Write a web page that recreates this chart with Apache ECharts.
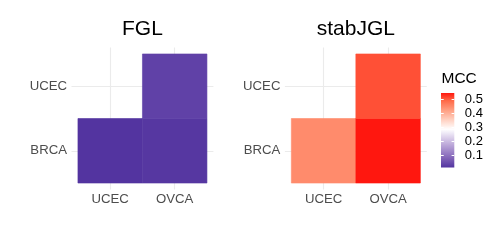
<!DOCTYPE html>
<html>
<head>
<meta charset="utf-8">
<script src="https://cdn.jsdelivr.net/npm/echarts@6/dist/echarts.min.js"></script>
<style>
html,body{margin:0;padding:0;background:#fff;}
#chart{width:498px;height:249px;}
</style>
</head>
<body>
<div id="chart"></div>
<script>
// ---- data ----
const xCategories = ['UCEC', 'OVCA'];
const yCategories = ['BRCA', 'UCEC'];
const panelTitles = ['FGL', 'stabJGL'];
const cellX = ['UCEC', 'OVCA', 'OVCA'];
const cellY = ['BRCA', 'BRCA', 'UCEC'];
const fglMCC = [0.016, 0.020, 0.0345];
const stabJGLMCC = [0.448, 0.545, 0.508];
const legendTitle = 'MCC';
const legendTicks = [0.1, 0.2, 0.3, 0.4, 0.5];
const mccMidpoint = 0.288;

// ---- styling ----
const FONT = 'Liberation Sans';
const ramp = ['#5334A0', '#8264B8', '#AC95D0', '#D6C9E8', '#FFFFFF',
              '#FFCFBF', '#FF9E81', '#FF6846', '#FF0000'];

const allVals = fglMCC.concat(stabJGLMCC);
const dataMin = Math.min.apply(null, allVals);
const dataMax = Math.max.apply(null, allVals);
const halfSpan = Math.max(mccMidpoint - dataMin, dataMax - mccMidpoint);
const visMin = mccMidpoint - halfSpan;
const visMax = mccMidpoint + halfSpan;

function cells(vals) {
  return vals.map((v, i) => [xCategories.indexOf(cellX[i]) + 1, yCategories.indexOf(cellY[i]) + 1, v]);
}

// colorbar gradient sampled from the same ramp the visualMap uses
const N = 40;
const barStops = [];
for (let i = 0; i < N; i++) {
  const v = dataMax - i / (N - 1) * (dataMax - dataMin);
  barStops.push({ offset: i / (N - 1), color: echarts.color.lerp((v - visMin) / (visMax - visMin), ramp) });
}

const panels = [
  { left: 71.5, top: 47.5, width: 141.9, height: 142 },
  { left: 284.9, top: 47.5, width: 141.9, height: 142 }
];

const grids = panels.map(p => ({ left: p.left, top: p.top, width: p.width, height: p.height }));
grids.push({ left: 441, top: 93, width: 13.3, height: 74.5 });

const gridLine = { show: true, lineStyle: { color: '#EBEBEB', width: 1.1 } };
const xAxes = panels.map((p, i) => ({
  type: 'value', gridIndex: i, min: 0.4, max: 2.6,
  axisLine: { show: false },
  axisTick: { show: false, customValues: [1, 2] },
  splitLine: gridLine,
  axisLabel: { customValues: [1, 2], formatter: v => xCategories[Math.round(v) - 1],
               color: '#4D4D4D', fontSize: 13.2, fontFamily: FONT, margin: 3 }
}));
xAxes.push({ type: 'value', gridIndex: 2, min: 0, max: 1, show: false });

const yAxes = panels.map((p, i) => ({
  type: 'value', gridIndex: i, min: 0.4, max: 2.6,
  axisLine: { show: false },
  axisTick: { show: false, customValues: [1, 2] },
  splitLine: gridLine,
  axisLabel: { customValues: [1, 2], formatter: v => yCategories[Math.round(v) - 1],
               color: '#4D4D4D', fontSize: 13.2, fontFamily: FONT, margin: 4.5 }
}));
yAxes.push({
  type: 'value', gridIndex: 2, min: dataMin, max: dataMax, position: 'left', z: 10,
  axisLine: { show: false }, splitLine: { show: false }, axisLabel: { show: false },
  axisTick: { show: true, inside: true, length: 2.7, customValues: legendTicks, lineStyle: { color: '#ffffff', width: 1 } }
});
yAxes.push({
  type: 'value', gridIndex: 2, min: dataMin, max: dataMax, position: 'right', z: 10,
  axisLine: { show: false }, splitLine: { show: false },
  axisTick: { show: true, inside: true, length: 2.7, customValues: legendTicks, lineStyle: { color: '#ffffff', width: 1 } },
  axisLabel: { show: true, customValues: legendTicks, formatter: v => v.toFixed(1),
               color: '#000', fontSize: 13, fontFamily: FONT, margin: 10.5 }
});

function tileRender(params, api) {
  const x = api.value(0), y = api.value(1);
  const p0 = api.coord([x - 0.5, y + 0.5]);
  const p1 = api.coord([x + 0.5, y - 0.5]);
  const c = api.visual('color');
  return { type: 'rect', shape: { x: p0[0], y: p0[1], width: p1[0] - p0[0], height: p1[1] - p0[1] },
           style: { fill: c, stroke: c, lineWidth: 0.6 } };
}

const option = {
  backgroundColor: '#ffffff',
  animation: false,
  title: [
    { text: panelTitles[0], left: panels[0].left + panels[0].width / 2, top: 19, textAlign: 'center', padding: 0,
      textStyle: { fontSize: 21, fontWeight: 'normal', color: '#000', fontFamily: FONT } },
    { text: panelTitles[1], left: panels[1].left + panels[1].width / 2, top: 19, textAlign: 'center', padding: 0,
      textStyle: { fontSize: 21, fontWeight: 'normal', color: '#000', fontFamily: FONT } },
    { text: legendTitle, left: 441.5, top: 71, padding: 0,
      textStyle: { fontSize: 15.5, fontWeight: 'normal', color: '#000', fontFamily: FONT } }
  ],
  grid: grids,
  xAxis: xAxes,
  yAxis: yAxes,
  visualMap: {
    type: 'continuous', show: false, min: visMin, max: visMax, dimension: 2,
    seriesIndex: [0, 1], inRange: { color: ramp }
  },
  series: [
    { type: 'custom', xAxisIndex: 0, yAxisIndex: 0, renderItem: tileRender, encode: { x: 0, y: 1 }, data: cells(fglMCC) },
    { type: 'custom', xAxisIndex: 1, yAxisIndex: 1, renderItem: tileRender, encode: { x: 0, y: 1 }, data: cells(stabJGLMCC) },
    { type: 'custom', xAxisIndex: 2, yAxisIndex: 2, encode: { x: 0, y: [1, 2] },
      data: [[0, dataMin, dataMax]],
      renderItem: function (params, api) {
        const p0 = api.coord([0, api.value(2)]);
        const p1 = api.coord([1, api.value(1)]);
        return { type: 'rect', shape: { x: p0[0], y: p0[1], width: p1[0] - p0[0], height: p1[1] - p0[1] },
                 style: { fill: { type: 'linear', x: 0, y: 0, x2: 0, y2: 1, colorStops: barStops } } };
      } }
  ]
};

const chart = echarts.init(document.getElementById('chart'), null, { renderer: 'canvas' });
chart.setOption(option);
</script>
</body>
</html>
